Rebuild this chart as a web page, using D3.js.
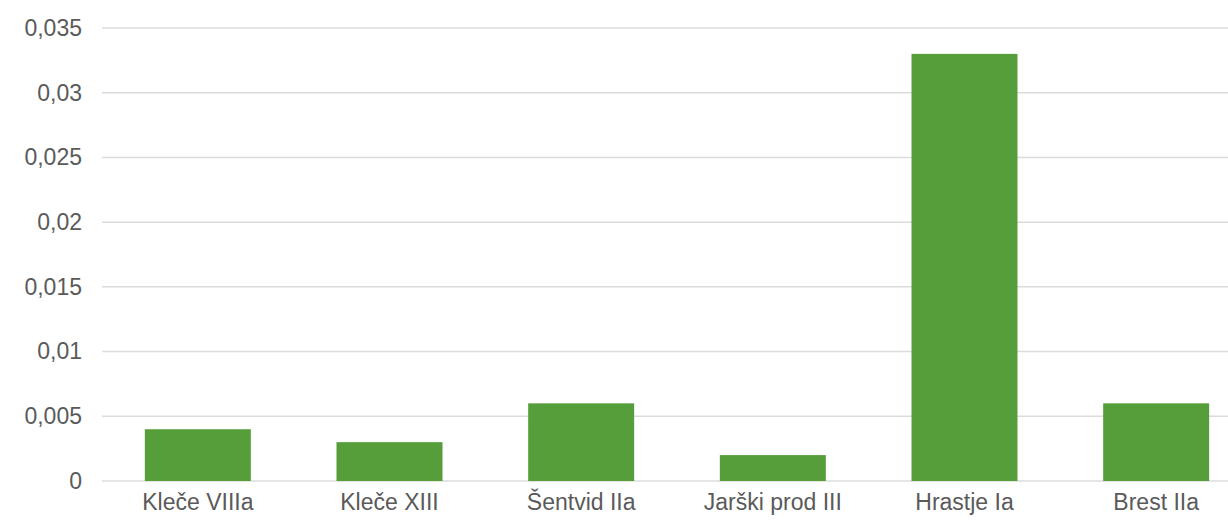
<!DOCTYPE html>
<html><head><meta charset="utf-8">
<script src="https://cdn.jsdelivr.net/npm/d3@7"></script>
<style>body{margin:0;background:#fff;overflow:hidden}svg{display:block}</style>
</head><body>
<svg id="c" width="1228" height="526"></svg>
<script>
const categories = ["Kleče VIIIa", "Kleče XIII", "Šentvid IIa", "Jarški prod III", "Hrastje Ia", "Brest IIa"];
const values = [0.004, 0.003, 0.006, 0.002, 0.033, 0.006];
const yTicks = [0, 0.005, 0.01, 0.015, 0.02, 0.025, 0.03, 0.035];
const yTickLabels = ["0", "0,005", "0,01", "0,015", "0,02", "0,025", "0,03", "0,035"];

const svg = d3.select("#c");
const font = "'Liberation Sans', Arial, Helvetica, sans-serif";
const x = d3.scaleBand().domain(categories).range([102, 1252]).paddingInner(0.447).paddingOuter(0.2235);
const y = d3.scaleLinear().domain([0, 0.035]).range([481, 28]);

// gridlines
svg.append("g").selectAll("line").data(yTicks).join("line")
  .attr("x1", 102).attr("x2", 1228)
  .attr("y1", d => y(d)).attr("y2", d => y(d))
  .attr("stroke", "#dcdcdc").attr("stroke-width", 1.5);

// y axis labels
const yAxis = d3.axisLeft(y).tickValues(yTicks).tickSize(0).tickPadding(0)
  .tickFormat((d, i) => yTickLabels[i]);
const yg = svg.append("g").attr("transform", "translate(82,0)").call(yAxis);
yg.select(".domain").remove();
yg.selectAll("text").attr("font-family", font).attr("font-size", 23).attr("fill", "#5a5a5a");

// bars
svg.append("g").selectAll("rect").data(values).join("rect")
  .attr("x", (d, i) => x(categories[i]))
  .attr("width", x.bandwidth())
  .attr("y", d => y(d))
  .attr("height", d => y(0) - y(d))
  .attr("fill", "#559e3a");

// x axis labels
const xAxis = d3.axisBottom(x).tickSize(0).tickPadding(13);
const xg = svg.append("g").attr("transform", "translate(0,481)").call(xAxis);
xg.select(".domain").remove();
xg.selectAll("text").attr("font-family", font).attr("font-size", 23).attr("fill", "#5a5a5a");
</script>
</body></html>
